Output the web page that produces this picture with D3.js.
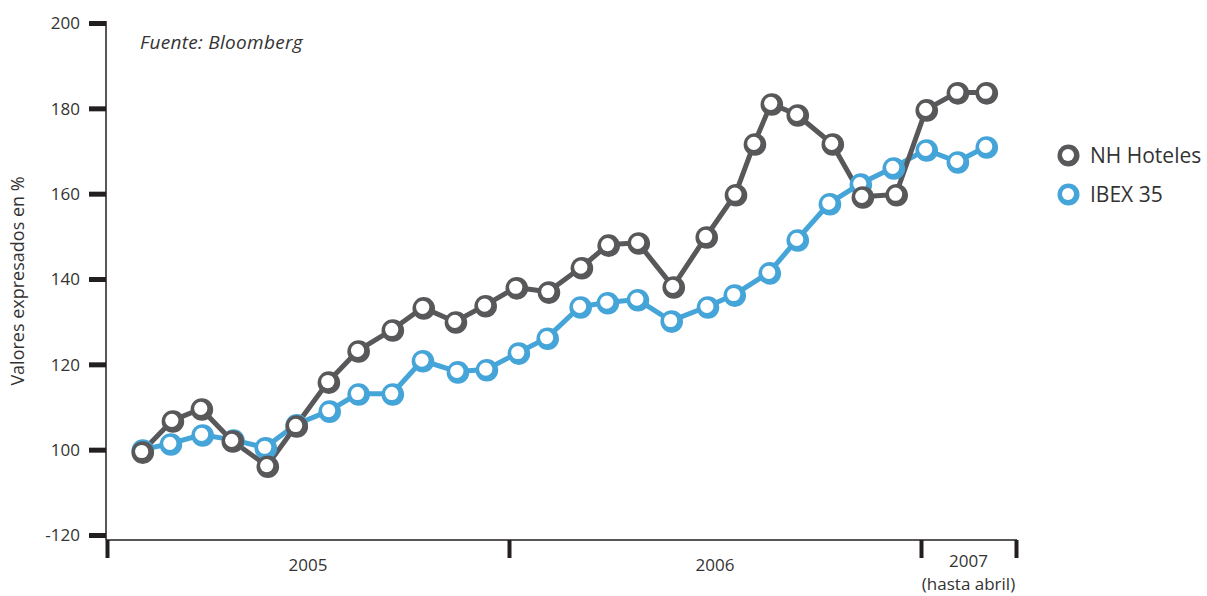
<!DOCTYPE html>
<html lang="es">
<head>
<meta charset="utf-8">
<script src="https://cdn.jsdelivr.net/npm/d3@7"></script>
<style>
  html, body { margin: 0; padding: 0; background: #fff; }
  svg text { font-family: "Open Sans", Lato, sans-serif; font-weight: 400; fill: #333; }
</style>
</head>
<body>
<svg id="chart" width="1207" height="596"></svg>
<script>
// Series: NH Hoteles vs IBEX 35, base 100, x in decimal years
const nhDates = [2005.087, 2005.162, 2005.234, 2005.311, 2005.398, 2005.470, 2005.550, 2005.624,
  2005.709, 2005.786, 2005.866, 2005.940, 2006.017, 2006.095, 2006.175, 2006.240, 2006.313,
  2006.398, 2006.478, 2006.549, 2006.595, 2006.636, 2006.699, 2006.784, 2006.857, 2006.939,
  2007.013, 2007.095, 2007.171];
const nhValues = [99.5, 106.8, 109.6, 102.1, 96.2, 105.6, 115.9, 123.2, 128.1, 133.3, 130.0, 133.8,
  138.0, 137.0, 142.7, 148.0, 148.5, 138.2, 149.9, 159.8, 171.7, 181.1, 178.5, 171.7, 159.3, 159.8,
  179.7, 183.7, 183.7];

const ibexDates = [2005.087, 2005.157, 2005.236, 2005.313, 2005.393, 2005.470, 2005.552, 2005.624,
  2005.709, 2005.784, 2005.871, 2005.943, 2006.022, 2006.092, 2006.172, 2006.238, 2006.311,
  2006.393, 2006.481, 2006.546, 2006.631, 2006.699, 2006.777, 2006.852, 2006.932, 2007.013,
  2007.095, 2007.171];
const ibexValues = [100.0, 101.4, 103.5, 102.3, 100.5, 105.9, 109.1, 113.1, 113.1, 120.9, 118.3,
  118.8, 122.7, 126.2, 133.5, 134.5, 135.2, 130.2, 133.5, 136.3, 141.5, 149.2, 157.7, 162.3, 166.1,
  170.3, 167.5, 171.0];

const seriesNames = ["NH Hoteles", "IBEX 35"];
const seriesColors = ["#58585a", "#45a4d8"];

// Axis definitions
const yTickValues = [80, 100, 120, 140, 160, 180, 200];
const yTickLabels = ["-120", "100", "120", "140", "160", "180", "200"];
const xBreaks = [2005, 2006, 2007, 2007.25];
const periodLabels = ["2005", "2006", "2007"];
const periodNote = "(hasta abril)";
const yTitle = "Valores expresados en %";
const sourceNote = "Fuente: Bloomberg";

const svg = d3.select("#chart");

// Plot frame
const plotLeft = 106, plotTop = 23, plotBottom = 535, axisY = 540, plotRight = 1016;

const x = d3.scaleLinear()
  .domain(xBreaks)
  .range([107, 509, 921, plotRight]);
const y = d3.scaleLinear().domain([80, 200]).range([plotBottom, plotTop]);

// Y axis
const yAxis = d3.axisLeft(y)
  .tickValues(yTickValues)
  .tickSize(17)
  .tickPadding(9)
  .tickFormat((d, i) => yTickLabels[i]);
const gy = svg.append("g").attr("transform", `translate(${plotLeft},0)`).call(yAxis);
gy.select(".domain").remove();
gy.selectAll(".tick line").attr("stroke", "#231f20").attr("stroke-width", 5);
gy.selectAll(".tick text")
  .attr("font-size", 17)
  .attr("font-family", null)
  .attr("fill", null)
  .attr("dy", "0.35em");
svg.append("line")
  .attr("x1", plotLeft).attr("x2", plotLeft).attr("y1", plotTop - 2).attr("y2", axisY)
  .attr("stroke", "#231f20").attr("stroke-width", 1.5);

// X axis with period breaks
const xAxis = d3.axisBottom(x).tickValues(xBreaks).tickSize(18).tickFormat("");
const gx = svg.append("g").attr("transform", `translate(0,${axisY})`).call(xAxis);
gx.select(".domain").remove();
gx.selectAll(".tick line").attr("stroke", "#231f20").attr("stroke-width", 4);
svg.append("line")
  .attr("x1", plotLeft).attr("x2", plotRight + 1).attr("y1", axisY).attr("y2", axisY)
  .attr("stroke", "#231f20").attr("stroke-width", 1.5);

svg.append("g").selectAll("text")
  .data(periodLabels)
  .join("text")
  .attr("x", (d, i) => (x(xBreaks[i]) + x(xBreaks[i + 1])) / 2)
  .attr("y", (d, i) => i === 2 ? 567 : 571)
  .attr("text-anchor", "middle")
  .attr("font-size", 17)
  .text(d => d);
svg.append("text")
  .attr("x", (x(xBreaks[2]) + x(xBreaks[3])) / 2)
  .attr("y", 590)
  .attr("text-anchor", "middle")
  .attr("font-size", 17)
  .text(periodNote);

// Axis title and source
svg.append("text")
  .attr("transform", `translate(24,${(plotTop + plotBottom) / 2 + 2}) rotate(-90)`)
  .attr("text-anchor", "middle")
  .attr("font-size", 18)
  .text(yTitle);
svg.append("text")
  .attr("x", 140).attr("y", 49)
  .attr("font-size", 19)
  .attr("letter-spacing", 0.3)
  .attr("font-style", "italic")
  .text(sourceNote);

// Lines and ring markers
const series = [
  { name: seriesNames[0], color: seriesColors[0], pts: nhDates.map((d, i) => [d, nhValues[i]]) },
  { name: seriesNames[1], color: seriesColors[1], pts: ibexDates.map((d, i) => [d, ibexValues[i]]) }
];
const line = d3.line().x(d => x(d[0])).y(d => y(d[1]));

function drawLine(s) {
  svg.append("path")
    .datum(s.pts)
    .attr("fill", "none")
    .attr("stroke", s.color)
    .attr("stroke-width", 5)
    .attr("stroke-linejoin", "round")
    .attr("d", line);
}
function drawRings(s) {
  const g = svg.append("g");
  const m = g.selectAll("g").data(s.pts).join("g")
    .attr("transform", d => `translate(${x(d[0])},${y(d[1])})`);
  m.append("circle").attr("cx", 0.8).attr("cy", 0.8).attr("r", 11.3).attr("fill", s.color);
  m.append("circle").attr("cx", -0.3).attr("cy", -0.3).attr("r", 6.6).attr("fill", "#fff");
}
drawLine(series[1]);
drawLine(series[0]);
drawRings(series[1]);
drawRings(series[0]);

// Legend
const legend = svg.append("g").selectAll("g")
  .data(series)
  .join("g")
  .attr("transform", (d, i) => `translate(1068,${155 + i * 39})`);
legend.append("circle").attr("cx", 0.5).attr("cy", 0.5).attr("r", 11).attr("fill", d => d.color);
legend.append("circle").attr("r", 6).attr("fill", "#fff");
legend.append("text")
  .attr("x", 22).attr("dy", "0.36em")
  .attr("font-size", 21)
  .text(d => d.name);
</script>
</body>
</html>
